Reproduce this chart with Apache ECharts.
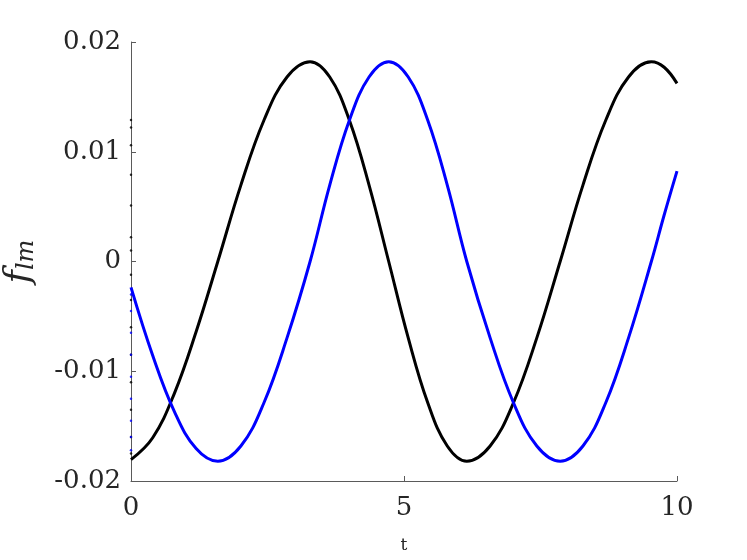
<!DOCTYPE html>
<html>
<head>
<meta charset="utf-8">
<script src="https://cdn.jsdelivr.net/npm/echarts@6/dist/echarts.min.js"></script>
<style>
  html, body { margin: 0; padding: 0; background: #fff; }
  #chart { width: 747px; height: 560px; }
</style>
</head>
<body>
<div id="chart"></div>
<script>
// sample times (denser around each quarter wave, incl. the turning points)
const tValues = [
  0, 0.3975, 0.795, 1.1925,
  1.59, 2.0125, 2.435, 2.8575,
  3.28, 3.64, 4.0, 4.36,
  4.72, 5.0775, 5.435, 5.7925,
  6.15, 6.5775, 7.005, 7.4325,
  7.86, 8.2775, 8.695, 9.1125,
  9.53, 9.765, 10
]
// black curve
const blackValues = [
  -0.01805, -0.01606, -0.01201, -0.0064,
  0, 0.00696, 0.01287, 0.01681,
  0.0182, 0.01681, 0.01287, 0.00696,
  0, -0.00696, -0.01287, -0.01681,
  -0.0182, -0.01681, -0.01287, -0.00696,
  0, 0.00696, 0.01287, 0.01681,
  0.0182, 0.0177, 0.01623
]
// blue curve
const blueValues = [
  -0.00236, -0.00857, -0.01368, -0.01704,
  -0.0182, -0.01681, -0.01287, -0.00696,
  0, 0.00696, 0.01287, 0.01681,
  0.0182, 0.01681, 0.01287, 0.00696,
  0, -0.00696, -0.01287, -0.01681,
  -0.0182, -0.01681, -0.01287, -0.00696,
  0, 0.00424, 0.00824
]
// start-up transient dots at t = 0
const blackStartDots = [0.0129, 0.0122, 0.0106, 0.0079, 0.0051, 0.0022, 0.001, -0.0012, -0.0035, -0.006, -0.0085, -0.011, -0.0135, -0.016, -0.0175]
const blueStartDots = [-0.003, -0.0045, -0.0065, -0.0085, -0.0105, -0.0125, -0.0145, -0.016, -0.0172]
const xTicks = [0, 5, 10]
const yTickLabels = { '0.02': '0.02', '0.01': '0.01', '0': '0', '-0.01': '-0.01', '-0.02': '-0.02' }

const font = 'DejaVu Serif'
const textColor = '#262626'
const axisColor = '#5a5a5a'

const myChart = echarts.init(document.getElementById('chart'))

const pairs = (ys) => ys.map((y, i) => [tValues[i], y])

const options = {
  animation: false,
  grid: { left: 131, right: 70, top: 42, bottom: 79, outerBoundsMode: 'none', containLabel: false },
  xAxis: {
    type: 'value',
    min: 0,
    max: 10,
    interval: 5,
    name: 't',
    nameLocation: 'middle',
    nameGap: 56,
    nameTextStyle: { fontFamily: font, fontSize: 17, color: textColor },
    axisLine: { onZero: false, lineStyle: { color: axisColor, width: 1 } },
    axisTick: { inside: true, length: 5, lineStyle: { color: axisColor } },
    axisLabel: {
      margin: 14,
      fontFamily: font, fontSize: 26, color: textColor,
      formatter: (v) => xTicks.includes(v) ? String(v) : ''
    },
    splitLine: { show: false }
  },
  yAxis: {
    type: 'value',
    min: -0.02,
    max: 0.02,
    interval: 0.01,
    name: '{f|f}{s|lm}',
    nameLocation: 'middle',
    nameGap: 92,
    nameRotate: 90,
    nameTextStyle: {
      rich: {
        f: { fontFamily: font, fontStyle: 'italic', fontSize: 36, color: textColor },
        s: { fontFamily: font, fontStyle: 'italic', fontSize: 24, color: textColor, padding: [14, 0, 0, 0] }
      }
    },
    axisLine: { show: true, onZero: false, lineStyle: { color: axisColor, width: 1 } },
    axisTick: { show: true, inside: true, length: 5, lineStyle: { color: axisColor } },
    axisLabel: {
      margin: 10,
      fontFamily: font, fontSize: 26, color: textColor,
      formatter: (v) => yTickLabels[String(Math.round(v * 100) / 100)] || ''
    },
    splitLine: { show: false }
  },
  series: [
    {
      name: 'black',
      type: 'line',
      data: pairs(blackValues),
      smooth: 0.4,
      showSymbol: false,
      lineStyle: { color: '#000000', width: 3 },
      z: 3
    },
    {
      name: 'blue',
      type: 'line',
      data: pairs(blueValues),
      smooth: 0.4,
      showSymbol: false,
      lineStyle: { color: '#0000ff', width: 3 },
      z: 4
    },
    {
      name: 'black start',
      type: 'scatter',
      data: blackStartDots.map((y) => [0, y]),
      symbolSize: 2.5,
      itemStyle: { color: '#000000' },
      z: 5
    },
    {
      name: 'blue start',
      type: 'scatter',
      data: blueStartDots.map((y) => [0, y]),
      symbolSize: 2.5,
      itemStyle: { color: '#0000ff' },
      z: 6
    }
  ]
}

myChart.setOption(options)
</script>
</body>
</html>
